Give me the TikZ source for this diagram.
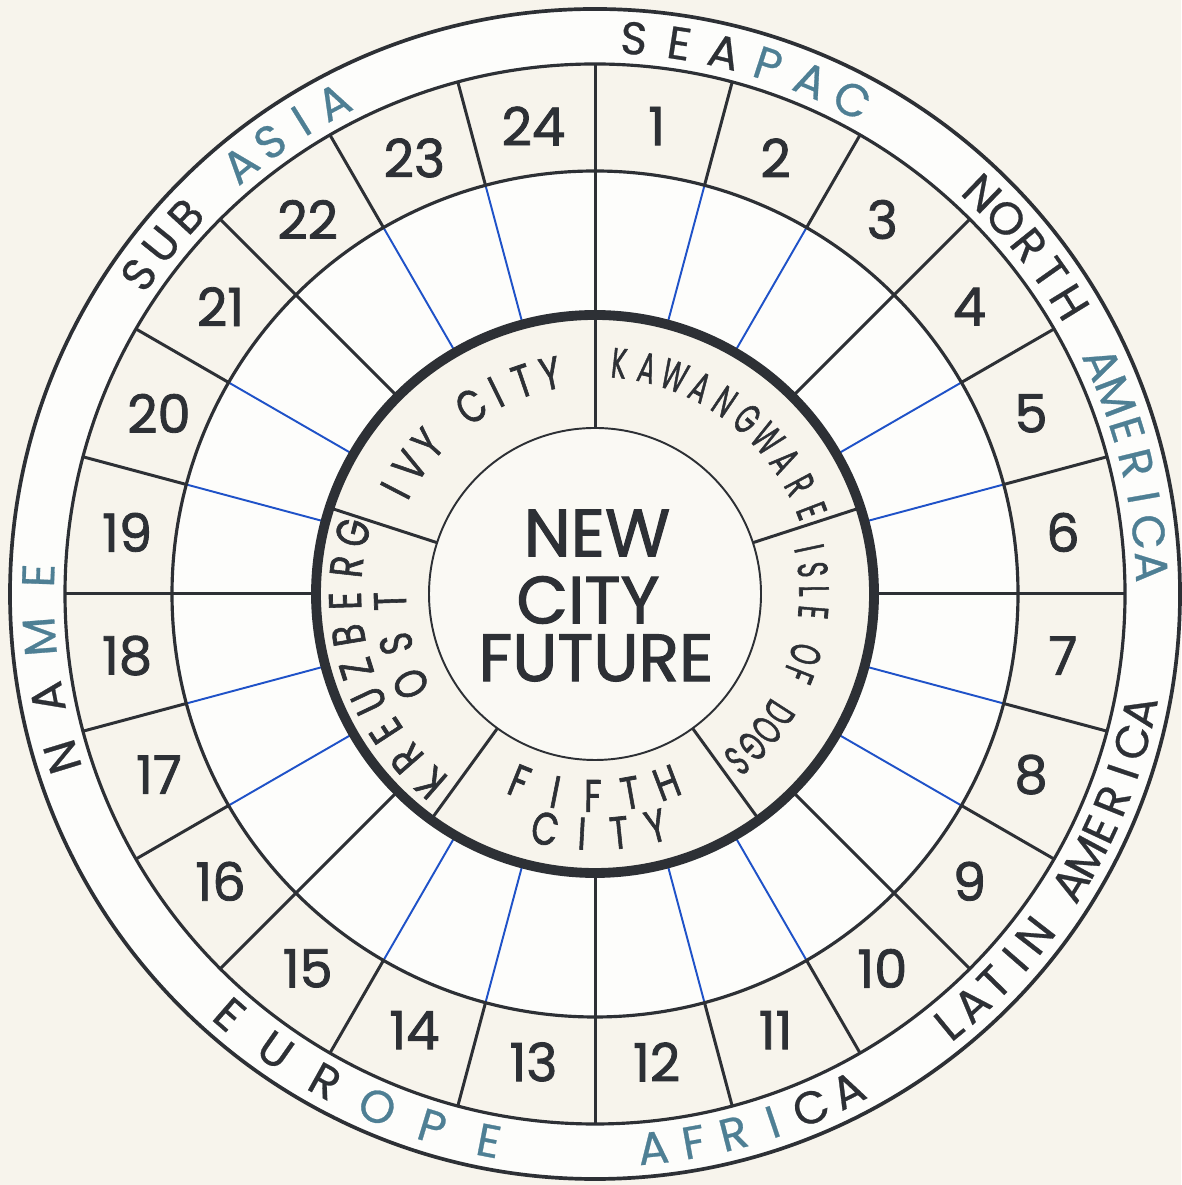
\documentclass[tikz,border=0pt]{standalone}
\usepackage{fontspec}
\setmainfont{Poppins}
\newfontfamily\markerfont[FakeBold=1.6]{Poppins}
\newfontfamily\penfont[FakeBold=0.6]{Poppins}
\definecolor{paper}{HTML}{F7F4EC}
\definecolor{whiter}{HTML}{FDFDFB}
\definecolor{dk}{HTML}{2D3035}
\definecolor{tl}{HTML}{4E7F94}
\definecolor{inkblue}{HTML}{1F52C8}
\newcommand\ringtext[7]{%
  \foreach \ch/\col [count=\i from 0] in {#7}{%
    \pgfmathsetmacro\ang{#4+(#5)*\i}%
    \node[rotate=\ang+#6,#1,text=\col] (#2\i) at (\ang:#3) {\ch};
  }}
\begin{document}
\begin{tikzpicture}[x=0.02cm,y=0.02cm,
  ringline/.style={line width=1.8pt,draw=dk},
  outerring/.style={line width=2.1pt,draw=dk},
  thickring/.style={line width=5.6pt,draw=dk},
  thinring/.style={line width=1.1pt,draw=dk},
  spoke/.style={line width=1.7pt,draw=dk},
  bluespoke/.style={line width=1.1pt,draw=inkblue},
  outerlbl/.style={font=\penfont\fontsize{26}{26}\selectfont,inner sep=0pt},
  numlbl/.style={font=\markerfont\fontsize{30}{30}\selectfont,text=dk,inner sep=0pt},
  citylbl/.style={font=\markerfont\fontsize{26}{26}\selectfont,inner sep=0pt,xscale=0.76},
  smallcitylbl/.style={font=\markerfont\fontsize{24}{24}\selectfont,inner sep=0pt,xscale=0.6},
  centerlbl/.style={font=\markerfont\fontsize{38}{38}\selectfont,text=dk,inner sep=0pt}]
\fill[paper] (0,0) rectangle (1181,1185);
\useasboundingbox (0,0) rectangle (1181,1185);
\begin{scope}[shift={(595,591)}]
  % fills
  \fill[whiter] (0,0) circle[radius=585];
  \fill[paper] (0,0) circle[radius=530];
  \fill[whiter] (0,0) circle[radius=423];
  \fill[paper] (0,0) circle[radius=279];
  \fill[whiter!50!paper] (0,0) circle[radius=166];
  % spokes
  \foreach \t in {0,15,...,345}{
    \pgfmathtruncatemacro\m{mod(\t,45)}
    \ifnum\m=0
      \draw[spoke] (\t:279) -- (\t:530);
    \else
      \draw[spoke] (\t:423) -- (\t:530);
      \draw[bluespoke] (\t:279) -- (\t:423);
    \fi
  }
  % city dividers
  \foreach \t in {18,90,162,234,306}{
    \draw[spoke] (\t:166) -- (\t:279);
  }
  % circles
  \draw[outerring] (0,0) circle[radius=585];
  \draw[ringline] (0,0) circle[radius=530];
  \draw[ringline] (0,0) circle[radius=423];
  \draw[thickring] (0,0) circle[radius=279];
  \draw[thinring] (0,0) circle[radius=166];
  % numbers
  \foreach \k in {1,...,24}{
    \node[numlbl] (n\k) at ({97.5-15*\k}:472) {\k};
  }
  % outer ring labels
  \ringtext{outerlbl}{sea}{557}{86}{-4.7}{-90}{S/dk,E/dk,A/dk,P/tl,A/tl,C/tl}
  \ringtext{outerlbl}{nam}{557}{46}{-3.6}{-90}{N/dk,O/dk,R/dk,T/dk,H/dk,{}/dk,A/tl,M/tl,E/tl,R/tl,I/tl,C/tl,A/tl}
  \ringtext{outerlbl}{lam}{557}{-50.6}{3.2}{90}{L/dk,A/dk,T/dk,I/dk,N/dk,{}/dk,A/dk,M/dk,E/dk,R/dk,I/dk,C/dk,A/dk}
  \ringtext{outerlbl}{afr}{557}{-84}{4.2}{90}{A/tl,F/tl,R/tl,I/tl,C/dk,A/dk}
  \ringtext{outerlbl}{eur}{557}{-131}{6}{90}{E/dk,U/dk,R/dk,O/tl,P/tl,E/tl}
  \ringtext{outerlbl}{name}{557}{197}{-6.3}{-90}{N/dk,A/dk,M/tl,E/tl}
  \ringtext{outerlbl}{sub}{557}{145}{-3.86}{-90}{S/dk,U/dk,B/dk,{}/dk,A/tl,S/tl,I/tl,A/tl}
  % city ring labels
  \ringtext{citylbl}{ivy}{225}{152.6}{-7.3}{-90}{I/dk,V/dk,Y/dk,{}/dk,C/dk,I/dk,T/dk,Y/dk}
  \ringtext{smallcitylbl}{kaw}{232}{84}{-7}{-90}{K/dk,A/dk,W/dk,A/dk,N/dk,G/dk,W/dk,A/dk,R/dk,E/dk}
  \ringtext{smallcitylbl}{isle}{219}{12}{-5.6}{-90}{I/dk,S/dk,L/dk,E/dk,{}/dk,O/dk,F/dk,{}/dk,D/dk,O/dk,G/dk,S/dk}
  \ringtext{citylbl}{kreu}{250}{229}{-7.9}{-90}{K/dk,R/dk,E/dk,U/dk,Z/dk,B/dk,E/dk,R/dk,G/dk}
  \ringtext{citylbl}{ost}{205}{206}{-12}{-90}{O/dk,S/dk,T/dk}
  \ringtext{citylbl}{fifth}{202}{-112}{10.7}{90}{F/dk,I/dk,F/dk,T/dk,H/dk}
  \ringtext{citylbl}{fcity}{240}{-102}{8.9}{90}{C/dk,I/dk,T/dk,Y/dk}
\end{scope}
% centre
\node[centerlbl] (new) at (597,652) {NEW};
\node[centerlbl] (city) at (588,585) {CITY};
\node[centerlbl] (future) at (596,527) {FUTURE};
\end{tikzpicture}
\end{document}
